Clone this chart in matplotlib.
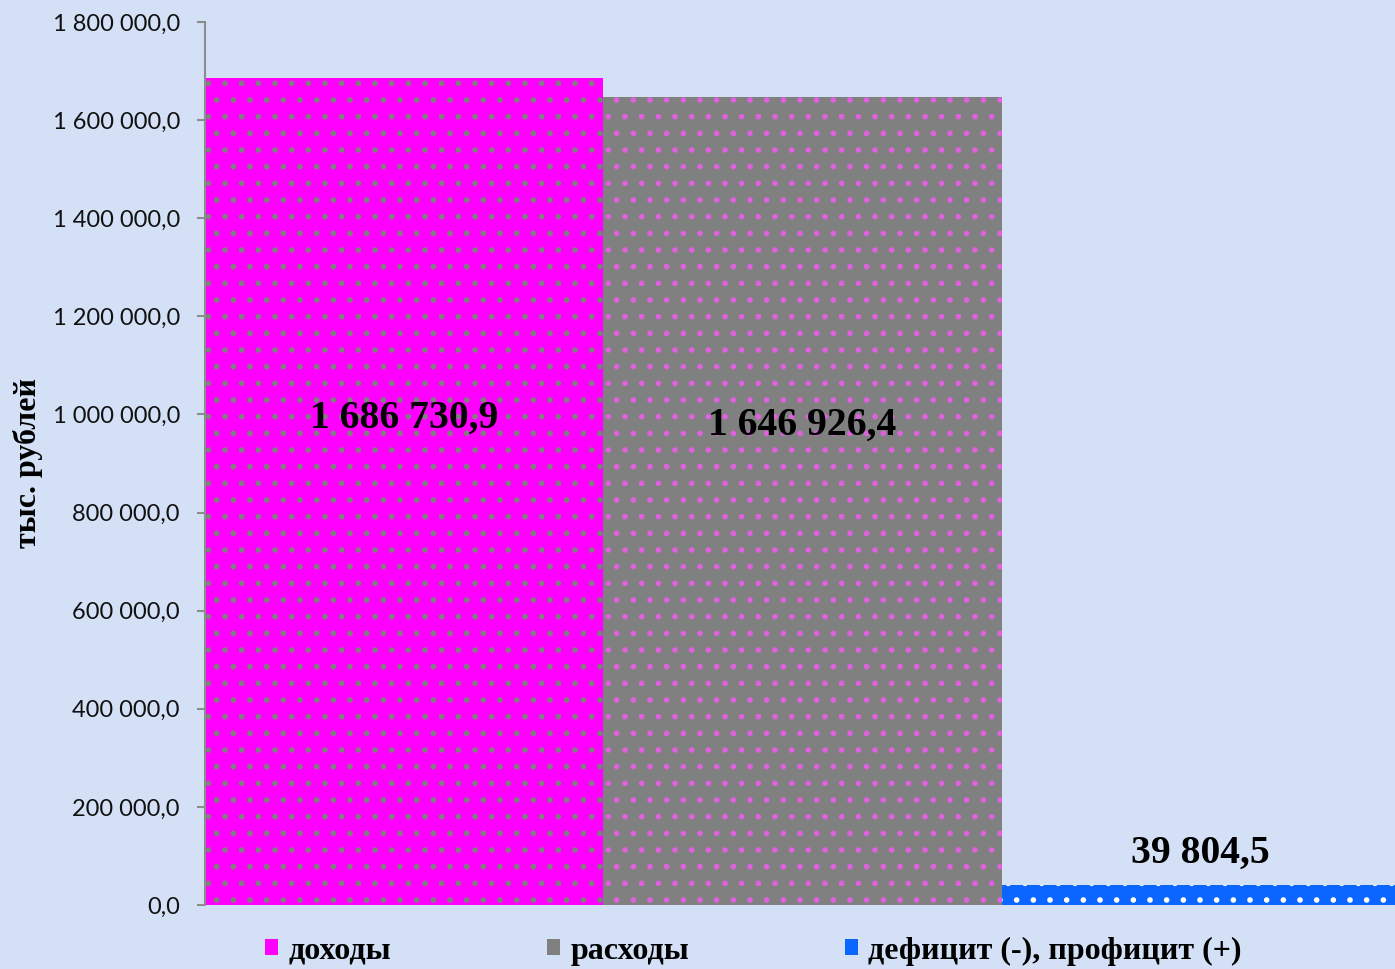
import numpy as np
import matplotlib.pyplot as plt
from matplotlib.ticker import FuncFormatter, MultipleLocator

# --- data (тыс. рублей) ---
categories = ['доходы', 'расходы', 'дефицит (-), профицит (+)']
values = [1686730.9, 1646926.4, 39804.5]

# --- style ---
bar_colors = ['#FF00FF', '#808080', '#0A66FF']
dot_colors = ['#7F7F7F', '#E060E0', '#FFFFFF']
hatches = ['.', '.', '.']
label_y = [0.992e6, 0.977e6, 1.05e5]   # where the value labels sit
BG = '#D3E0F6'


def ru_number(v, _pos=None):
    # 1234567.8 -> "1 234 567,8"
    return f'{v:,.1f}'.replace(',', ' ').replace('.', ',')


plt.rcParams['hatch.linewidth'] = 1.6

fig = plt.figure(figsize=(13.95, 9.69), dpi=100, facecolor=BG)
ax = fig.add_axes([205 / 1395, 1 - 905 / 969, 1195 / 1395, 883 / 969])
ax.set_facecolor('none')

x = np.arange(len(values))
bars = ax.bar(x, values, width=1.0, color=bar_colors, edgecolor=dot_colors,
              linewidth=0, label=categories)
for b, h in zip(bars, hatches):
    b.set_hatch(h)

for xi, v, ly in zip(x, values, label_y):
    ax.text(xi, ly, ru_number(v), ha='center', va='center',
            family='Liberation Serif', fontweight='bold', fontsize=28.5,
            color='black')

ax.set_xlim(-0.5, 2.5)
ax.set_ylim(0, 1800000)
ax.yaxis.set_major_locator(MultipleLocator(200000))
ax.yaxis.set_major_formatter(FuncFormatter(ru_number))
ax.set_xticks([])

for side in ['top', 'right', 'bottom']:
    ax.spines[side].set_visible(False)
ax.spines['left'].set_color('#8C8C8C')
ax.spines['left'].set_linewidth(1.5)
ax.tick_params(axis='y', length=6, width=1.5, color='#8C8C8C', pad=12,
               labelsize=17, labelcolor='#111111')
for lbl in ax.get_yticklabels():
    lbl.set_family('Lato')

ax.set_ylabel('тыс. рублей', family='Liberation Serif', fontweight='bold',
              fontsize=23, labelpad=7)

# legend swatches: plain colour squares, no dots
handles = [plt.Rectangle((0, 0), 1, 1, facecolor=c, edgecolor='none')
           for c in bar_colors]
fig.legend(handles=handles, labels=categories, loc='center',
           bbox_to_anchor=(753.5 / 1395, 1 - 951 / 969), ncol=3, frameon=False,
           prop={'family': 'Liberation Serif', 'weight': 'bold', 'size': 23},
           handlelength=0.4, handleheight=0.4, handletextpad=0.32,
           columnspacing=4.9, borderaxespad=0, borderpad=0)

fig.savefig('out.png', dpi=100, facecolor=BG)
